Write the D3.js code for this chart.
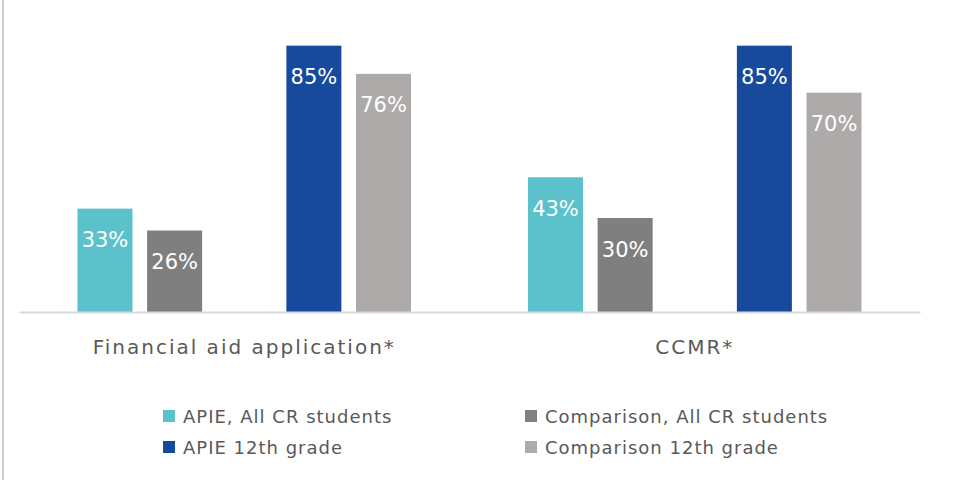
<!DOCTYPE html>
<html><head><meta charset="utf-8">
<script src="https://cdn.jsdelivr.net/npm/d3@7"></script>
<style>body{margin:0;background:#fff;}svg{display:block;}</style>
</head><body><svg id="c" width="962" height="480"></svg>
<script>
const categories = ["Financial aid application*", "CCMR*"];
const seriesNames = ["APIE, All CR students", "Comparison, All CR students", "APIE 12th grade", "Comparison 12th grade"];
const apieAll = [33, 43];
const compAll = [26, 30];
const apie12 = [85, 85];
const comp12 = [76, 70];
const colors = ["#5BC2CC", "#7F7F7F", "#174A9C", "#ADAAA9"];

const seriesValues = [apieAll, compAll, apie12, comp12];
const slots = ["s0", "s1", "gap", "s2", "s3"];
const slotOf = ["s0", "s1", "s2", "s3"];

const svg = d3.select("#c");
const font = "'DejaVu Sans', sans-serif";

svg.append("line").attr("x1", 3).attr("x2", 3).attr("y1", 0).attr("y2", 480)
  .attr("stroke", "#BFBFBF").attr("stroke-width", 1.5);

const x0 = d3.scaleBand().domain(categories).range([19, 920]).padding(0);
const x1 = d3.scaleBand().domain(slots).range([0, x0.bandwidth()]).paddingInner(0.21).paddingOuter(0.84);
const y = d3.scaleLinear().domain([0, 90]).range([312, 30]);

const data = [];
categories.forEach((c, ci) => seriesValues.forEach((vals, si) => data.push({c, si, v: vals[ci]})));

const g = svg.append("g");
g.selectAll("rect").data(data).join("rect")
  .attr("x", d => x0(d.c) + x1(slotOf[d.si]))
  .attr("width", x1.bandwidth())
  .attr("y", d => y(d.v))
  .attr("height", d => y(0) - y(d.v))
  .attr("fill", d => colors[d.si]);

g.selectAll("text.v").data(data).join("text").attr("class", "v")
  .attr("x", d => x0(d.c) + x1(slotOf[d.si]) + x1.bandwidth() / 2)
  .attr("y", d => y(d.v) + 38.5)
  .attr("text-anchor", "middle")
  .attr("fill", "#fff")
  .attr("font-family", font).attr("font-size", 21)
  .text(d => d.v + "%");

// baseline axis
const ax = svg.append("g").attr("transform", `translate(0,${y(0)})`)
  .call(d3.axisBottom(x0).tickSize(0).tickPadding(28));
ax.select(".domain").attr("stroke", "#D9D9D9").attr("stroke-width", 2);
ax.selectAll("text").attr("font-family", font).attr("font-size", 20)
  .attr("letter-spacing", 2).attr("fill", "#595959");

// legend
const legPos = [[163, 416], [525, 416], [163, 447], [525, 447]];
const leg = svg.append("g");
seriesNames.forEach((n, i) => {
  const [lx, ly] = legPos[i];
  leg.append("rect").attr("x", lx).attr("y", ly - 6).attr("width", 12).attr("height", 12).attr("fill", colors[i]);
  leg.append("text").attr("x", lx + 20).attr("y", ly + 6.5)
    .attr("font-family", font).attr("font-size", 18).attr("letter-spacing", 1)
    .attr("fill", "#595959").text(n);
});
</script></body></html>
